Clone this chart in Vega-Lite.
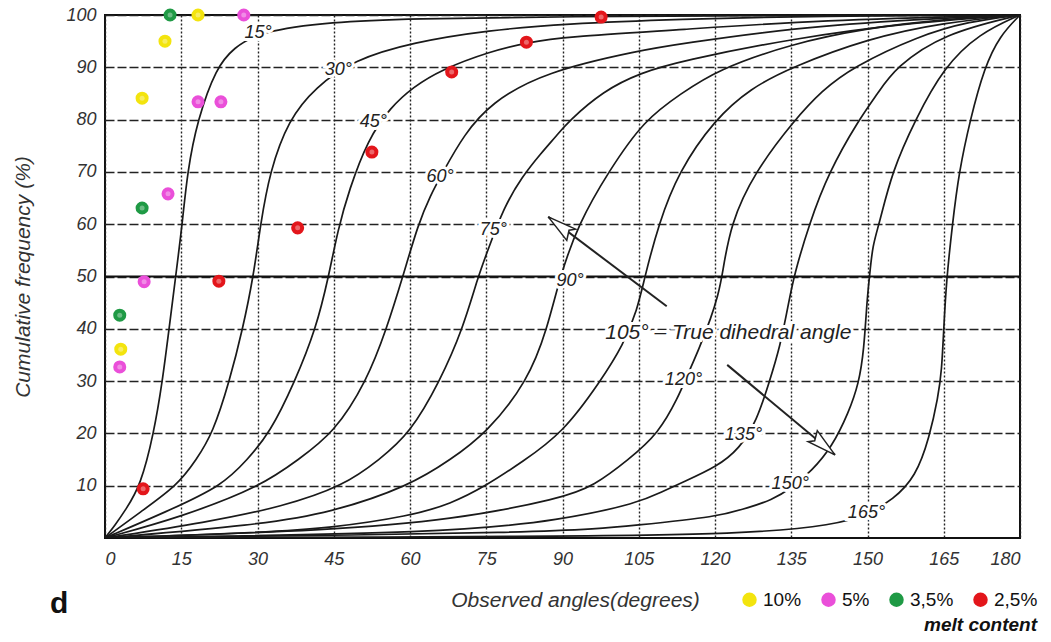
{
  "$schema": "https://vega.github.io/schema/vega-lite/v6.json",
  "autosize": "none",
  "width": 915,
  "height": 523,
  "padding": {"left": 105, "top": 15, "right": 31, "bottom": 104},
  "background": "white",
  "config": {
    "view": {"stroke": "#111", "strokeWidth": 2},
    "axis": {
      "labelFont": "Liberation Sans", "labelFontStyle": "italic", "labelFontSize": 18, "labelColor": "#333",
      "titleFont": "Liberation Sans", "titleFontStyle": "italic", "titleFontWeight": "normal", "titleFontSize": 21, "titleColor": "#333",
      "ticks": false, "domain": false
    }
  },
  "title": {"text": "d", "orient": "bottom", "anchor": "start", "frame": "group", "dx": -55, "dy": -50, "fontSize": 30, "fontWeight": "bold", "font": "Liberation Sans", "color": "#111"},
  "datasets": {
    "curves": [
      {"t":"15","x":0,"y":0},{"t":"15","x":2,"y":2.5},{"t":"15","x":4,"y":5.3},{"t":"15","x":7,"y":10},{"t":"15","x":9.6,"y":20},{"t":"15","x":11.3,"y":30},{"t":"15","x":12.6,"y":40},{"t":"15","x":13.9,"y":50},{"t":"15","x":15.2,"y":60},{"t":"15","x":16.2,"y":70},{"t":"15","x":18.2,"y":80},{"t":"15","x":21.9,"y":90},{"t":"15","x":25.3,"y":93.7},{"t":"15","x":30.3,"y":96.8},{"t":"15","x":44.6,"y":98.7},{"t":"15","x":60,"y":99.3},{"t":"15","x":90,"y":99.7},{"t":"15","x":135,"y":99.9},{"t":"15","x":180,"y":100},
      {"t":"30","x":0,"y":0},{"t":"30","x":7,"y":5},{"t":"30","x":14.2,"y":10},{"t":"30","x":18,"y":15},{"t":"30","x":21.2,"y":20},{"t":"30","x":24.5,"y":30},{"t":"30","x":27.1,"y":40},{"t":"30","x":29.2,"y":50},{"t":"30","x":30.6,"y":60},{"t":"30","x":32.4,"y":70},{"t":"30","x":36.1,"y":80},{"t":"30","x":41.4,"y":86.2},{"t":"30","x":48.9,"y":91.4},{"t":"30","x":60.6,"y":94.8},{"t":"30","x":75.6,"y":97.1},{"t":"30","x":90.2,"y":98.3},{"t":"30","x":113,"y":99.2},{"t":"30","x":140,"y":99.8},{"t":"30","x":180,"y":100},
      {"t":"45","x":0,"y":0},{"t":"45","x":12,"y":5},{"t":"45","x":23.1,"y":10},{"t":"45","x":28,"y":15},{"t":"45","x":32.4,"y":20},{"t":"45","x":37.4,"y":30},{"t":"45","x":41.5,"y":40},{"t":"45","x":44,"y":50},{"t":"45","x":45.8,"y":58.9},{"t":"45","x":48,"y":66.5},{"t":"45","x":51.7,"y":76.2},{"t":"45","x":56.2,"y":82.4},{"t":"45","x":60.6,"y":86.2},{"t":"45","x":66,"y":89.5},{"t":"45","x":75.9,"y":93.1},{"t":"45","x":83.4,"y":94.8},{"t":"45","x":90.3,"y":95.8},{"t":"45","x":113.4,"y":97.2},{"t":"45","x":140,"y":99},{"t":"45","x":180,"y":100},
      {"t":"60","x":0,"y":0},{"t":"60","x":15,"y":4},{"t":"60","x":31,"y":10},{"t":"60","x":38,"y":15},{"t":"60","x":45,"y":20},{"t":"60","x":51.5,"y":30},{"t":"60","x":55.4,"y":40},{"t":"60","x":58.6,"y":50},{"t":"60","x":61.6,"y":60},{"t":"60","x":64,"y":65.5},{"t":"60","x":66.5,"y":70},{"t":"60","x":70.6,"y":77.1},{"t":"60","x":75.9,"y":83.2},{"t":"60","x":86.4,"y":89.1},{"t":"60","x":105.5,"y":93.3},{"t":"60","x":113.4,"y":94.5},{"t":"60","x":135,"y":97.5},{"t":"60","x":160,"y":99.2},{"t":"60","x":180,"y":100},
      {"t":"75","x":0,"y":0},{"t":"75","x":20,"y":3},{"t":"75","x":35,"y":6},{"t":"75","x":47,"y":10},{"t":"75","x":54,"y":15},{"t":"75","x":60,"y":20},{"t":"75","x":65.9,"y":30},{"t":"75","x":70.4,"y":40},{"t":"75","x":73.4,"y":50},{"t":"75","x":75.3,"y":55},{"t":"75","x":78.5,"y":63.3},{"t":"75","x":82,"y":69},{"t":"75","x":85.8,"y":73.6},{"t":"75","x":89,"y":77.1},{"t":"75","x":91,"y":79.5},{"t":"75","x":98,"y":85.5},{"t":"75","x":105.5,"y":89},{"t":"75","x":113.4,"y":91.2},{"t":"75","x":135,"y":95.5},{"t":"75","x":160,"y":98.7},{"t":"75","x":180,"y":100},
      {"t":"90","x":0,"y":0},{"t":"90","x":30,"y":2.5},{"t":"90","x":44.4,"y":4.8},{"t":"90","x":60,"y":10},{"t":"90","x":68,"y":15},{"t":"90","x":75,"y":20},{"t":"90","x":83.2,"y":30},{"t":"90","x":87,"y":40},{"t":"90","x":89.5,"y":50},{"t":"90","x":93.1,"y":60},{"t":"90","x":99,"y":70},{"t":"90","x":106.1,"y":80},{"t":"90","x":113.4,"y":85},{"t":"90","x":120.4,"y":89.5},{"t":"90","x":135,"y":94.5},{"t":"90","x":150,"y":97.5},{"t":"90","x":165,"y":99.2},{"t":"90","x":180,"y":100},
      {"t":"105","x":0,"y":0},{"t":"105","x":30,"y":1},{"t":"105","x":44.4,"y":1.9},{"t":"105","x":60,"y":4.2},{"t":"105","x":68,"y":6.5},{"t":"105","x":75,"y":10},{"t":"105","x":82,"y":14.5},{"t":"105","x":90,"y":20},{"t":"105","x":97.5,"y":30},{"t":"105","x":102,"y":37},{"t":"105","x":104.7,"y":43.6},{"t":"105","x":106.2,"y":50},{"t":"105","x":108.9,"y":60},{"t":"105","x":112.8,"y":70},{"t":"105","x":119.9,"y":80},{"t":"105","x":127,"y":86},{"t":"105","x":135,"y":90},{"t":"105","x":150,"y":95.5},{"t":"105","x":165,"y":98.6},{"t":"105","x":180,"y":100},
      {"t":"120","x":0,"y":0},{"t":"120","x":45,"y":1.5},{"t":"120","x":68,"y":3.4},{"t":"120","x":90,"y":7.6},{"t":"120","x":96.2,"y":10},{"t":"120","x":103,"y":15},{"t":"120","x":108.9,"y":20},{"t":"120","x":112.8,"y":27},{"t":"120","x":114.5,"y":31},{"t":"120","x":116.8,"y":36},{"t":"120","x":119.3,"y":42.3},{"t":"120","x":120.6,"y":46.5},{"t":"120","x":121.4,"y":50},{"t":"120","x":123,"y":60},{"t":"120","x":127.8,"y":70},{"t":"120","x":135.7,"y":80},{"t":"120","x":141,"y":85.5},{"t":"120","x":147,"y":90},{"t":"120","x":160,"y":96},{"t":"120","x":170,"y":98.8},{"t":"120","x":180,"y":100},
      {"t":"135","x":0,"y":0},{"t":"135","x":68,"y":1},{"t":"135","x":89.7,"y":3.4},{"t":"135","x":105,"y":6.7},{"t":"135","x":109.5,"y":8.8},{"t":"135","x":114,"y":10.8},{"t":"135","x":120.3,"y":13.6},{"t":"135","x":124.8,"y":17},{"t":"135","x":128.3,"y":22.6},{"t":"135","x":130.6,"y":29.6},{"t":"135","x":132.8,"y":36.5},{"t":"135","x":134.6,"y":45.5},{"t":"135","x":135.5,"y":50},{"t":"135","x":138.5,"y":60},{"t":"135","x":142.4,"y":70},{"t":"135","x":148.3,"y":80},{"t":"135","x":152,"y":85},{"t":"135","x":155.5,"y":90},{"t":"135","x":165,"y":96.5},{"t":"135","x":180,"y":100},
      {"t":"150","x":0,"y":0},{"t":"150","x":89.7,"y":1},{"t":"150","x":105,"y":2.5},{"t":"150","x":120.3,"y":4},{"t":"150","x":126.9,"y":5.9},{"t":"150","x":131,"y":7.2},{"t":"150","x":135,"y":9.5},{"t":"150","x":139,"y":12.8},{"t":"150","x":143,"y":17.4},{"t":"150","x":146.3,"y":24},{"t":"150","x":148.3,"y":29.6},{"t":"150","x":149.3,"y":35.9},{"t":"150","x":149.9,"y":45.5},{"t":"150","x":150.4,"y":50},{"t":"150","x":151,"y":56},{"t":"150","x":152.3,"y":60},{"t":"150","x":154.8,"y":70},{"t":"150","x":159.4,"y":80},{"t":"150","x":165,"y":90},{"t":"150","x":172,"y":96.5},{"t":"150","x":180,"y":100},
      {"t":"165","x":0,"y":0},{"t":"165","x":90,"y":0.3},{"t":"165","x":125,"y":0.7},{"t":"165","x":144,"y":2.5},{"t":"165","x":150,"y":4.5},{"t":"165","x":155,"y":7.3},{"t":"165","x":159.5,"y":11.7},{"t":"165","x":162.2,"y":19.3},{"t":"165","x":163.9,"y":27},{"t":"165","x":164.6,"y":32},{"t":"165","x":165,"y":40},{"t":"165","x":165.5,"y":49},{"t":"165","x":166.7,"y":60},{"t":"165","x":168,"y":70},{"t":"165","x":170.2,"y":80},{"t":"165","x":173,"y":90},{"t":"165","x":176,"y":96},{"t":"165","x":180,"y":100}
    ],
    "labels": [
      {"label":"15°","x":30.1,"y":96.6},
      {"label":"30°","x":45.9,"y":89.5},
      {"label":"45°","x":52.8,"y":79.5},
      {"label":"60°","x":65.9,"y":69},
      {"label":"75°","x":76.4,"y":58.9},
      {"label":"90°","x":91.5,"y":49.1},
      {"label":"120°","x":113.8,"y":30.2},
      {"label":"135°","x":125.6,"y":19.7},
      {"label":"150°","x":134.8,"y":10.3},
      {"label":"165°","x":149.8,"y":4.8}
    ],
    "notes": [
      {"label":"105° – True dihedral angle","x":98.4,"y":39.2}
    ],
    "arrows": [
      {"x":110.5,"y":44.3,"x2":87.2,"y2":61.4,"angle":308},
      {"x":122.4,"y":33.1,"x2":143.6,"y2":15.9,"angle":130}
    ],
    "dots": [
      {"melt":"10%","x":18.3,"y":100},{"melt":"10%","x":11.8,"y":95},{"melt":"10%","x":7.3,"y":84.1},{"melt":"10%","x":3.1,"y":36.1},
      {"melt":"5%","x":27.3,"y":100},{"melt":"5%","x":18.3,"y":83.4},{"melt":"5%","x":22.8,"y":83.4},{"melt":"5%","x":12.4,"y":65.8},{"melt":"5%","x":7.7,"y":49},{"melt":"5%","x":2.9,"y":32.7},
      {"melt":"3,5%","x":12.8,"y":100},{"melt":"3,5%","x":7.3,"y":63.1},{"melt":"3,5%","x":2.9,"y":42.6},
      {"melt":"2,5%","x":7.5,"y":9.4},{"melt":"2,5%","x":22.4,"y":49.1},{"melt":"2,5%","x":37.9,"y":59.3},{"melt":"2,5%","x":52.5,"y":73.8},{"melt":"2,5%","x":68.2,"y":89.1},{"melt":"2,5%","x":82.9,"y":94.8},{"melt":"2,5%","x":97.6,"y":99.6}
    ]
  },
  "layer": [
    {
      "data": {"name": "curves"},
      "mark": {"type": "line", "color": "#1a1a1a", "strokeWidth": 1.7, "interpolate": "basis", "clip": true},
      "encoding": {
        "x": {"field": "x", "type": "quantitative", "scale": {"domain": [0, 180], "nice": false},
              "axis": {"values": [0,15,30,45,60,75,90,105,120,135,150,165,180], "grid": true, "gridDash": [2,2], "gridColor": "#222", "gridWidth": 1.4, "labelPadding": 12, "title": "Observed angles(degrees)", "titleY": 62, "titleBaseline": "middle", "titleX": 470}},
        "y": {"field": "y", "type": "quantitative", "scale": {"domain": [0, 100], "nice": false},
              "axis": {"values": [10,20,30,40,50,60,70,80,90,100], "grid": true, "gridDash": [9,3], "gridColor": "#222", "gridWidth": 1.5, "labelPadding": 9, "title": "Cumulative  frequency (%)", "titlePadding": 32}},
        "detail": {"field": "t", "type": "nominal"}
      }
    },
    {
      "data": {"values": [{"y": 50}]},
      "mark": {"type": "rule", "color": "#111", "strokeWidth": 2},
      "encoding": {"y": {"field": "y", "type": "quantitative"}}
    },
    {
      "data": {"name": "labels"},
      "mark": {"type": "text", "font": "Liberation Sans", "fontStyle": "italic", "fontSize": 18, "stroke": "white", "strokeWidth": 6, "color": "white", "baseline": "middle", "align": "center"},
      "encoding": {"x": {"field": "x", "type": "quantitative"}, "y": {"field": "y", "type": "quantitative"}, "text": {"field": "label"}}
    },
    {
      "data": {"name": "labels"},
      "mark": {"type": "text", "font": "Liberation Sans", "fontStyle": "italic", "fontSize": 18, "color": "#222", "baseline": "middle", "align": "center"},
      "encoding": {"x": {"field": "x", "type": "quantitative"}, "y": {"field": "y", "type": "quantitative"}, "text": {"field": "label"}}
    },
    {
      "data": {"name": "notes"},
      "mark": {"type": "text", "font": "Liberation Sans", "fontStyle": "italic", "fontSize": 21, "stroke": "white", "strokeWidth": 6, "color": "white", "baseline": "middle", "align": "left"},
      "encoding": {"x": {"field": "x", "type": "quantitative"}, "y": {"field": "y", "type": "quantitative"}, "text": {"field": "label"}}
    },
    {
      "data": {"name": "notes"},
      "mark": {"type": "text", "font": "Liberation Sans", "fontStyle": "italic", "fontSize": 21, "color": "#222", "baseline": "middle", "align": "left"},
      "encoding": {"x": {"field": "x", "type": "quantitative"}, "y": {"field": "y", "type": "quantitative"}, "text": {"field": "label"}}
    },
    {
      "data": {"name": "arrows"},
      "mark": {"type": "rule", "color": "#222", "strokeWidth": 2},
      "encoding": {
        "x": {"field": "x", "type": "quantitative"},
        "y": {"field": "y", "type": "quantitative"},
        "x2": {"field": "x2"},
        "y2": {"field": "y2"}
      }
    },
    {
      "data": {"name": "arrows"},
      "mark": {"type": "point", "shape": "M0,0 L0.32,1.3 L0.1,1.1 L-0.32,1.3 Z", "filled": true, "fill": "white", "stroke": "#222", "strokeWidth": 1.5, "size": 2000, "opacity": 1},
      "encoding": {
        "x": {"field": "x2", "type": "quantitative"},
        "y": {"field": "y2", "type": "quantitative"},
        "angle": {"field": "angle", "type": "quantitative", "scale": null}
      }
    },
    {
      "data": {"name": "dots"},
      "mark": {"type": "point", "shape": "circle", "filled": true, "size": 170, "opacity": 1},
      "encoding": {
        "x": {"field": "x", "type": "quantitative"},
        "y": {"field": "y", "type": "quantitative"},
        "color": {"field": "melt", "type": "nominal",
          "scale": {"domain": ["10%","5%","3,5%","2,5%"], "range": ["#f3e40e","#ea4fd9","#1f9a45","#e3161b"]},
          "legend": {"orient": "none", "legendX": 635, "legendY": 575, "direction": "horizontal", "columns": 4,
            "title": "melt content", "titleOrient": "bottom", "titleAnchor": "end", "titleFont": "Liberation Sans", "titleFontStyle": "italic", "titleFontWeight": "bold", "titleFontSize": 19, "titleColor": "#111", "titlePadding": 6,
            "labelFont": "Liberation Sans", "labelFontSize": 19, "labelColor": "#111", "labelOffset": 4, "columnPadding": 17,
            "symbolType": "circle", "symbolSize": 210, "symbolStrokeWidth": 0}}
      }
    },
    {
      "data": {"name": "dots"},
      "mark": {"type": "point", "shape": "circle", "filled": true, "size": 25, "color": "white", "opacity": 0.35},
      "encoding": {
        "x": {"field": "x", "type": "quantitative"},
        "y": {"field": "y", "type": "quantitative"}
      }
    }
  ]
}
